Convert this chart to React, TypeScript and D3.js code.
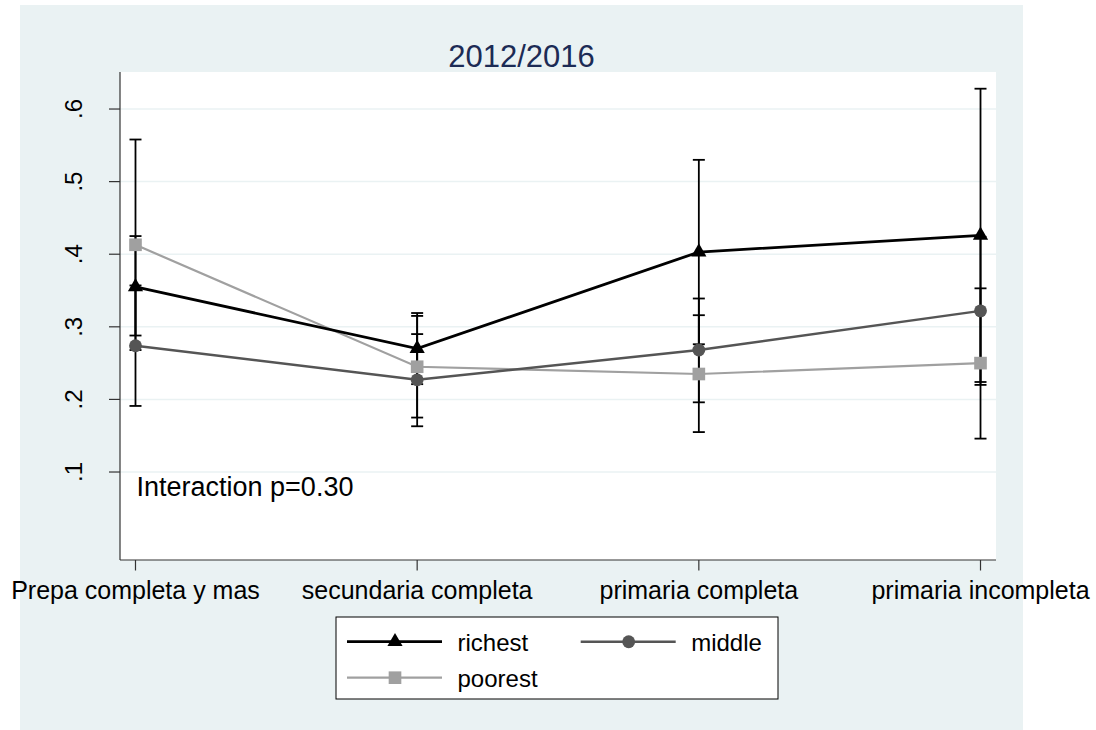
import React from 'react';
import * as d3 from 'd3';

// Education categories along the x axis
const categories = [
  'Prepa completa y mas',
  'secundaria completa',
  'primaria completa',
  'primaria incompleta',
];

// Predicted proportions and 95% confidence limits by wealth group
const richest = [0.355, 0.27, 0.403, 0.426];
const richestLo = [0.288, 0.221, 0.276, 0.224];
const richestHi = [0.425, 0.319, 0.53, 0.628];

const middle = [0.274, 0.227, 0.268, 0.322];
const middleLo = [0.191, 0.163, 0.196, 0.22];
const middleHi = [0.357, 0.29, 0.339, 0.424];

const poorest = [0.413, 0.245, 0.235, 0.25];
const poorestLo = [0.268, 0.175, 0.155, 0.146];
const poorestHi = [0.558, 0.315, 0.316, 0.353];

const yTicks = [0.1, 0.2, 0.3, 0.4, 0.5, 0.6];
const yTickLabels = ['.1', '.2', '.3', '.4', '.5', '.6'];

const titleText = '2012/2016';
const noteText = 'Interaction p=0.30';

const FONT = '"Liberation Sans", Arial, Helvetica, sans-serif';
const BG = '#eaf2f3';

type Series = {
  name: string;
  values: number[];
  lo: number[];
  hi: number[];
  color: string;
  width: number;
  symbol: d3.SymbolType;
  size: number;
};

const series: Series[] = [
  { name: 'poorest', values: poorest, lo: poorestLo, hi: poorestHi, color: '#a0a0a0', width: 2.2, symbol: d3.symbolSquare, size: 160 },
  { name: 'middle', values: middle, lo: middleLo, hi: middleHi, color: '#555555', width: 2.4, symbol: d3.symbolCircle, size: 130 },
  { name: 'richest', values: richest, lo: richestLo, hi: richestHi, color: '#000000', width: 2.8, symbol: d3.symbolTriangle, size: 100 },
];

export default function App() {
  const W = 1096;
  const H = 730;
  const plot = { left: 120, right: 996, top: 72, bottom: 560 };

  const x = d3
    .scalePoint<string>()
    .domain(categories)
    .range([plot.left, plot.right])
    .padding(0.055);

  const y = d3
    .scaleLinear()
    .domain([-0.0212, 0.651])
    .range([plot.bottom, plot.top]);

  const line = d3
    .line<number>()
    .x((_, i) => x(categories[i]) as number)
    .y((v) => y(v));

  const capHalf = 6;

  const legendRows = [
    { s: series[2], col: 0, row: 0 },
    { s: series[1], col: 1, row: 0 },
    { s: series[0], col: 0, row: 1 },
  ];
  const legend = { x: 336, y: 617, w: 442, h: 82 };
  const colX = [347, 580.7];
  const rowY = [641.7, 677.7];

  return (
    <svg
      width={W}
      height={H}
      style={{ position: 'absolute', left: 0, top: 0, display: 'block' }}
      fontFamily={FONT}
    >
      <rect x={0} y={0} width={W} height={H} fill="#ffffff" />
      <rect x={20} y={5} width={1003} height={725} fill={BG} />
      <rect
        x={plot.left}
        y={plot.top}
        width={plot.right - plot.left}
        height={plot.bottom - plot.top}
        fill="#ffffff"
      />

      {/* horizontal grid */}
      {yTicks.map((t) => (
        <line
          key={'g' + t}
          x1={plot.left}
          x2={plot.right}
          y1={y(t)}
          y2={y(t)}
          stroke={BG}
          strokeWidth={1.5}
        />
      ))}

      {/* title */}
      <text
        x={521.5}
        y={67}
        textAnchor="middle"
        fontSize={31}
        fill="#1c2b55"
      >
        {titleText}
      </text>

      {/* axes */}
      <line x1={plot.left} x2={plot.left} y1={plot.top} y2={plot.bottom} stroke="#333" strokeWidth={1.2} />
      <line x1={plot.left} x2={plot.right} y1={plot.bottom} y2={plot.bottom} stroke="#333" strokeWidth={1.2} />

      {yTicks.map((t, i) => (
        <g key={'yt' + t}>
          <line x1={plot.left - 11} x2={plot.left} y1={y(t)} y2={y(t)} stroke="#333" strokeWidth={1.2} />
          <text
            transform={`translate(82,${y(t)}) rotate(-90)`}
            textAnchor="middle"
            fontSize={24}
            fill="#000"
          >
            {yTickLabels[i]}
          </text>
        </g>
      ))}

      {categories.map((c) => (
        <g key={'xt' + c}>
          <line
            x1={x(c)}
            x2={x(c)}
            y1={plot.bottom}
            y2={plot.bottom + 10.5}
            stroke="#333"
            strokeWidth={1.2}
          />
          <text x={x(c)} y={599} textAnchor="middle" fontSize={25} fill="#000">
            {c}
          </text>
        </g>
      ))}

      {/* confidence intervals */}
      {series.map((s) =>
        categories.map((c, i) => {
          const cx = x(c) as number;
          return (
            <g key={'ci' + s.name + i} stroke="#000" strokeWidth={1.8}>
              <line x1={cx} x2={cx} y1={y(s.lo[i])} y2={y(s.hi[i])} />
              <line x1={cx - capHalf} x2={cx + capHalf} y1={y(s.lo[i])} y2={y(s.lo[i])} />
              <line x1={cx - capHalf} x2={cx + capHalf} y1={y(s.hi[i])} y2={y(s.hi[i])} />
            </g>
          );
        })
      )}

      {/* connected estimates */}
      {series.map((s) => (
        <path
          key={'l' + s.name}
          d={line(s.values) ?? ''}
          fill="none"
          stroke={s.color}
          strokeWidth={s.width}
        />
      ))}
      {series.map((s) =>
        s.values.map((v, i) => (
          <path
            key={'m' + s.name + i}
            d={d3.symbol(s.symbol, s.size)() ?? ''}
            transform={`translate(${x(categories[i])},${y(v)})`}
            fill={s.color}
          />
        ))
      )}

      {/* annotation */}
      <text x={136.5} y={496} fontSize={27} fill="#000">
        {noteText}
      </text>

      {/* legend */}
      <rect
        x={legend.x}
        y={legend.y}
        width={legend.w}
        height={legend.h}
        fill="#ffffff"
        stroke="#000"
        strokeWidth={1}
      />
      {legendRows.map(({ s, col, row }) => {
        const lx = colX[col];
        const ly = rowY[row];
        return (
          <g key={'lg' + s.name}>
            <line x1={lx} x2={lx + 95} y1={ly} y2={ly} stroke={s.color} strokeWidth={s.width} />
            <path
              d={d3.symbol(s.symbol, s.size)() ?? ''}
              transform={`translate(${lx + 48},${ly})`}
              fill={s.color}
            />
            <text x={lx + 110.5} y={ly + 9} fontSize={24} fill="#000">
              {s.name}
            </text>
          </g>
        );
      })}
    </svg>
  );
}
